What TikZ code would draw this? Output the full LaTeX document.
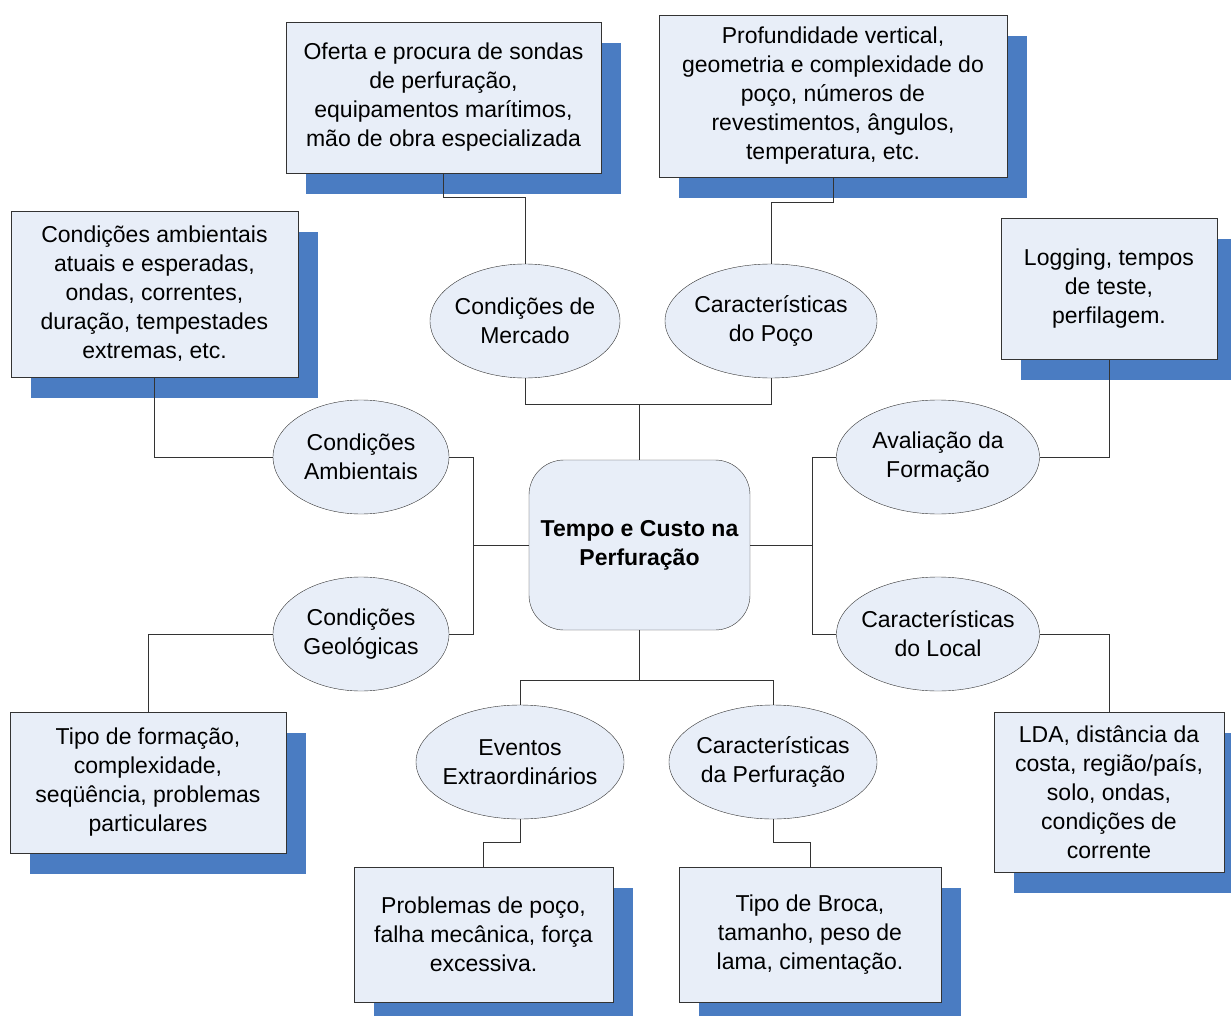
\documentclass[tikz,border=0pt]{standalone}
\usepackage{fontspec}
\setmainfont{Liberation Sans}
\usepackage{tikz}
\usetikzlibrary{shapes.geometric, shadows, calc}
\definecolor{drillfill}{HTML}{E8EEF8}
\definecolor{drillshadow}{HTML}{4A7CC2}
\definecolor{drillline}{HTML}{333333}

\begin{document}
\begin{tikzpicture}[
  x=1pt, y=-1pt,
  txt/.style={align=center, inner sep=0pt, font=\fontsize{23}{29}\selectfont},
  infobox/.style={txt, draw=drillline, fill=drillfill, general shadow={fill=drillshadow, shadow xshift=20pt, shadow yshift=-21pt}},
  factor/.style={txt, ellipse, draw=drillline, fill=drillfill, inner xsep=-25pt, minimum height=114pt},
  hub/.style={txt, draw=drillline, fill=drillfill, rounded corners=35pt, minimum width=221pt, minimum height=170pt, font=\fontsize{23}{29}\selectfont\bfseries},
  conn/.style={drillline, line width=1pt}
]
\useasboundingbox (0,0) rectangle (1231,1016);

\node[hub] (hub) at (639.5,545) {Tempo e Custo na\\Perfuração};

\node[factor, minimum width=190pt] (mercado) at (525,321) {Condições de\\Mercado};
\node[factor, minimum width=212pt] (poco) at (771,321) {Características\\do Poço};
\node[factor, minimum width=176pt] (ambient) at (361,457) {Condições\\Ambientais};
\node[factor, minimum width=176pt] (geol) at (361,634) {Condições\\Geológicas};
\node[factor, minimum width=203pt] (avalia) at (938,457) {Avaliação da\\Formação};
\node[factor, minimum width=203pt] (local) at (938,634) {Características\\do Local};
\node[factor, minimum width=208pt] (eventos) at (520,762) {Eventos\\Extraordinários};
\node[factor, minimum width=208pt] (perfur) at (773,762) {Características\\da Perfuração};

\node[infobox, minimum width=315pt, minimum height=151pt] (ofertabox) at (443.5,97.5) {Oferta e procura de sondas\\de perfuração,\\equipamentos marítimos,\\mão de obra especializada};
\node[infobox, minimum width=348pt, minimum height=162pt] (pocobox) at (833,96) {Profundidade vertical,\\geometria e complexidade do\\poço, números de\\revestimentos, ângulos,\\temperatura, etc.};
\node[infobox, minimum width=287pt, minimum height=166pt] (ambbox) at (154.5,294) {Condições ambientais\\atuais e esperadas,\\ondas, correntes,\\duração, tempestades\\extremas, etc.};
\node[infobox, minimum width=216pt, minimum height=141pt] (logbox) at (1109,288.5) {Logging, tempos\\de teste,\\perfilagem.};
\node[infobox, minimum width=276pt, minimum height=141pt] (geobox) at (148,782.5) {Tipo de formação,\\complexidade,\\seqüência, problemas\\particulares};
\node[infobox, minimum width=259pt, minimum height=135pt] (probbox) at (483.5,934.5) {Problemas de poço,\\falha mecânica, força\\excessiva.};
\node[infobox, minimum width=262pt, minimum height=135pt] (brocabox) at (810,934.5) {Tipo de Broca,\\tamanho, peso de\\lama, cimentação.};
\node[infobox, minimum width=230pt, minimum height=160pt] (ldabox) at (1109,792) {LDA, distância da\\costa, região/país,\\solo, ondas,\\condições de\\corrente};

\draw[conn] (hub.north) -- ++(0,-55) -| (mercado.south);
\draw[conn] (hub.north) -- ++(0,-55) -| (poco.south);
\draw[conn] (hub.west) -- ++(-55,0) |- (ambient.east);
\draw[conn] (hub.west) -- ++(-55,0) |- (geol.east);
\draw[conn] (hub.east) -- ++(62,0) |- (avalia.west);
\draw[conn] (hub.east) -- ++(62,0) |- (local.west);
\draw[conn] (hub.south) -- ++(0,50) -| (eventos.north);
\draw[conn] (hub.south) -- ++(0,50) -| (perfur.north);

\draw[conn] (mercado.north) -- ++(0,-66) -| (ofertabox.south);
\draw[conn] (poco.north) -- ++(0,-61) -| (pocobox.south);
\draw[conn] (ambient.west) -| (ambbox.south);
\draw[conn] (geol.west) -| (geobox.north);
\draw[conn] (avalia.east) -| (logbox.south);
\draw[conn] (local.east) -| (ldabox.north);
\draw[conn] (eventos.south) -- ++(0,23) -| (probbox.north);
\draw[conn] (perfur.south) -- ++(0,23) -| (brocabox.north);
\end{tikzpicture}
\end{document}
